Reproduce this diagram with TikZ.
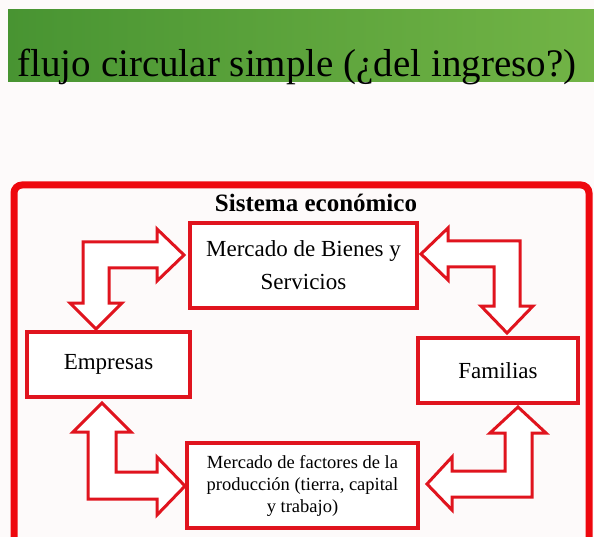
\documentclass[tikz,border=0pt]{standalone}
\usepackage{fontspec}
\setmainfont{Liberation Serif}
\usepackage{tikz}
\usetikzlibrary{positioning, calc}
\usepackage{xcolor}

\definecolor{flowred}{RGB}{224,20,30}
\definecolor{framered}{RGB}{238,8,14}
\definecolor{banddark}{RGB}{72,148,50}
\definecolor{bandlight}{RGB}{136,194,98}
\definecolor{bandright}{RGB}{114,180,70}
\definecolor{pagebg}{RGB}{253,250,250}

\begin{document}
\begin{tikzpicture}[
			x=1pt, y=-1pt,
			box_node/.style={
				rectangle,
				draw=flowred,
				line width=3.5pt,
				fill=white,
				align=center,
				inner sep=0pt,
				font=\fontsize{23}{33}\selectfont
			},
			small_box/.style={
				box_node,
				font=\fontsize{18.5}{22}\selectfont
			},
			flow/.style={
				draw=flowred,
				line width=3pt,
				fill=white,
				line join=miter
			}
			]
			
			\clip (0,0) rectangle (594,537);
			\fill[pagebg] (0,0) rectangle (594,537);
			
			% Header
			
			\shade[left color=banddark, middle color=bandlight, right color=bandright] (8,10) rectangle (594,82);
			\node[anchor=base, font=\fontsize{39}{44}\selectfont, inner sep=0pt] (title) at (297,77) {flujo circular simple (¿del ingreso?)};
			
			% Frame
			
			\draw[framered, line width=7pt, rounded corners=8pt] (14,185) rectangle (589,570);
			\node[anchor=base, font=\bfseries\fontsize{25}{28}\selectfont, inner sep=0pt] (sistema) at (316,212) {Sistema económico};
			
			% Flows
			
			\draw[flow] (83,303) -- (83,242) -- (157,242) -- (157,229) -- (184,255) -- (157,281) -- (157,268)
				-- (109,268) -- (109,303) -- (122,303) -- (96,329) -- (70,303) -- cycle;
			\draw[flow] (520,306) -- (520,241) -- (448,241) -- (448,228) -- (421,254) -- (448,280) -- (448,267)
				-- (494,267) -- (494,306) -- (481,306) -- (507,333) -- (533,306) -- cycle;
			\draw[flow] (88,432) -- (88,499) -- (157,499) -- (157,515) -- (185,486) -- (157,457) -- (157,472)
				-- (116,472) -- (116,432) -- (131,432) -- (102,403) -- (73,432) -- cycle;
			\draw[flow] (532,433) -- (532,497) -- (452,497) -- (452,510) -- (427,484) -- (452,457) -- (452,471)
				-- (505,471) -- (505,433) -- (490,433) -- (518,407) -- (546,433) -- cycle;
			
			% Markets and agents
			
			\node[box_node, minimum width=227pt, minimum height=85pt] (bienes) at (303.5,265.5) {Mercado de Bienes y\\Servicios};
			\node[box_node, minimum width=163pt, minimum height=65pt] (empresas) at (108.5,364.5) {Empresas};
			\node[box_node, minimum width=160pt, minimum height=65pt] (familias) at (498,370.5) {Familias};
			\node[small_box, minimum width=231pt, minimum height=85pt] (factores) at (302.5,485.5) {Mercado de factores de la\\producción (tierra, capital\\y trabajo)};
			
		\end{tikzpicture}
\end{document}
